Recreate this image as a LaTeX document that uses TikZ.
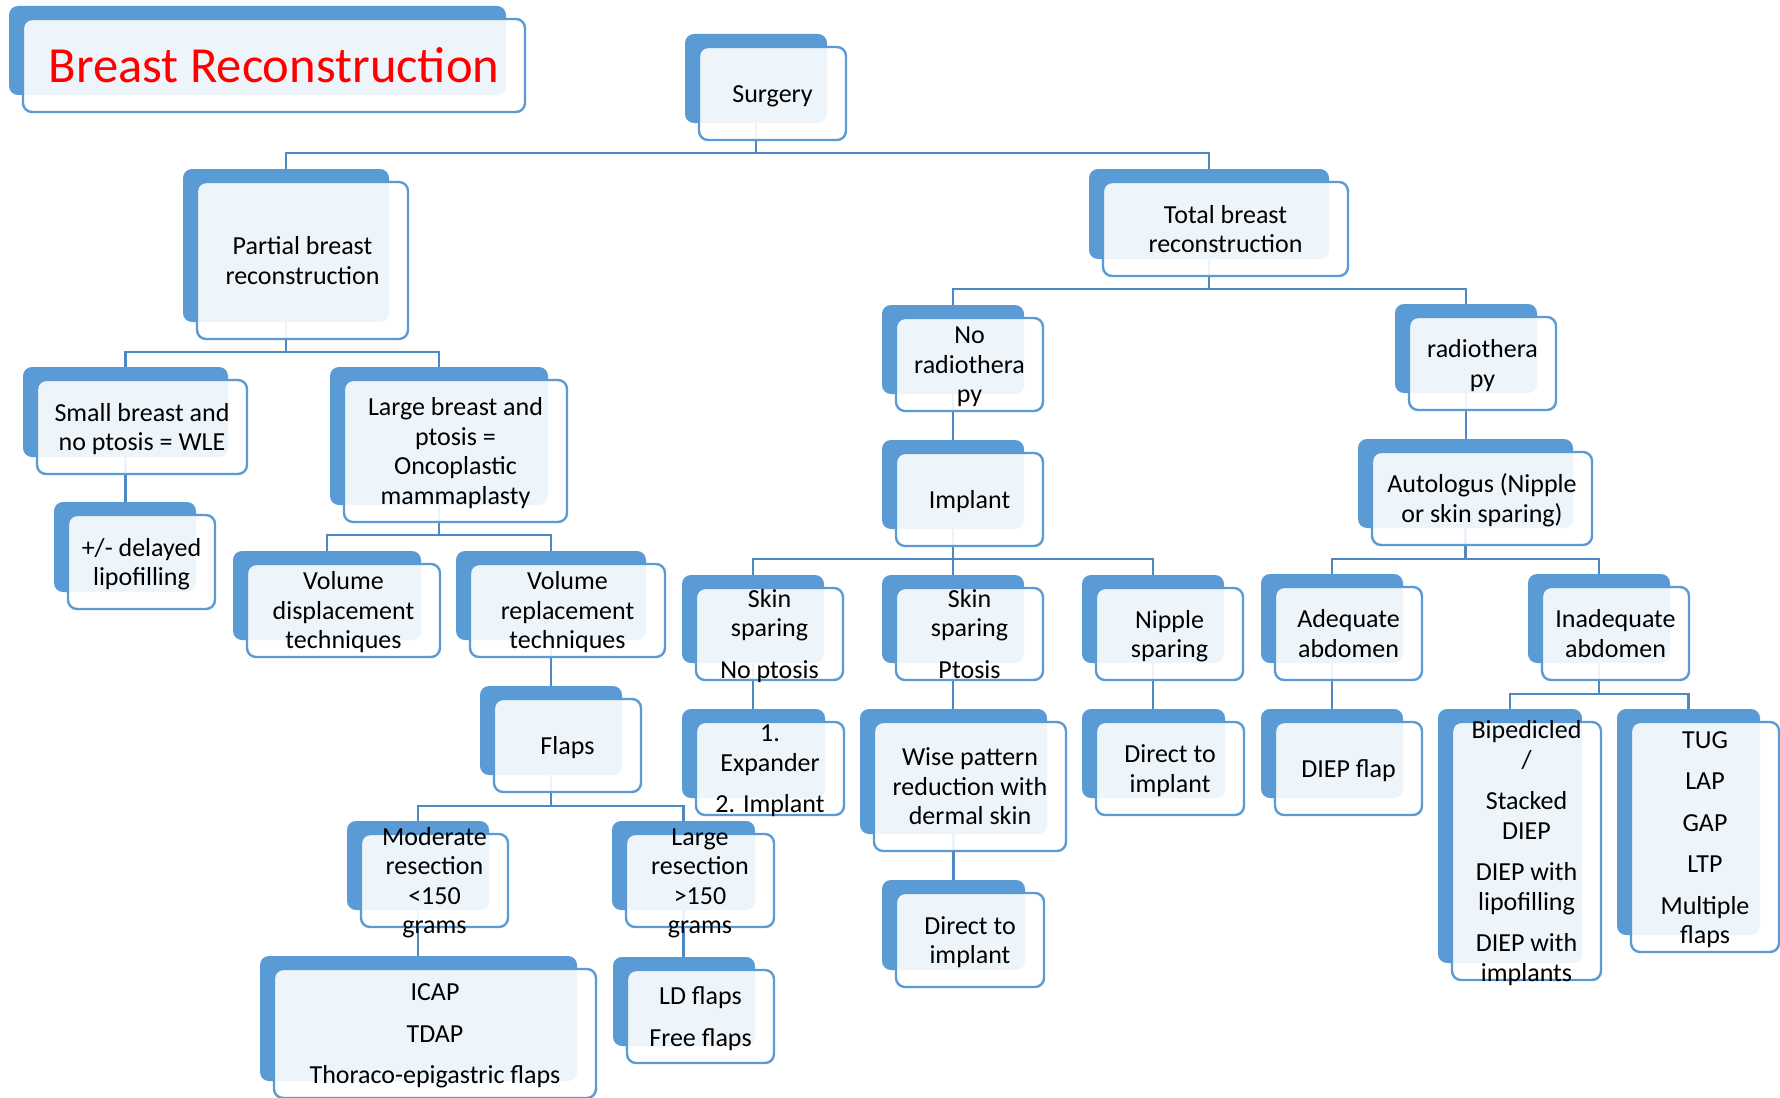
\documentclass[tikz,border=0pt]{standalone}
\usepackage{fontspec}
\setmainfont{Carlito}
\definecolor{accent}{RGB}{91,155,213}
\definecolor{connc}{RGB}{80,136,196}
\pgfdeclarelayer{bg}
\pgfsetlayers{bg,main}
\tikzset{
  backbox/.style={rectangle, rounded corners=4.5pt, fill=accent, draw=none, inner sep=0pt, outer sep=0pt},
  frontbox/.style={rectangle, rounded corners=4.5pt, draw=accent, line width=1.2pt, fill=white, fill opacity=0.9, inner sep=0pt, outer sep=0pt},
  boxtext/.style={align=center, font=\fontsize{13}{14.75}\selectfont, inner sep=0pt, text=black},
  titletext/.style={font=\fontsize{25.3}{29}\selectfont, text=red},
  conn/.style={draw=connc, line width=1.4pt},
}
\newcommand{\topstrut}{\vrule height 0.95em depth 0pt width 0pt}
\newcommand{\botstrut}{\vrule height 0pt depth 0.27em width 0pt}
% #1 text style, #2 name, #3 x1, #4 y1, #5 x2, #6 y2 (back box), #7 text
\newcommand{\smbox}[7][]{%
  \node[backbox, minimum width={(#5-#3)*0.5pt}, minimum height={(#6-#4)*0.5pt}] (#2b) at ({(#3+#5)/2},{(#4+#6)/2}) {};
  \node[frontbox, minimum width={(#5-#3+5)*0.5pt}, minimum height={(#6-#4+4)*0.5pt}] (#2) at ({(#3+#5)/2+16.5},{(#4+#6)/2+15}) {};
  \node[boxtext, #1] (#2t) at (#2.center) {\topstrut#7\botstrut};
}
\begin{document}
\begin{tikzpicture}[x=0.5pt,y=-0.5pt]
\useasboundingbox (0,0) rectangle (1780,1097);

\smbox[titletext]{title}{9}{6}{506}{95}{Breast Reconstruction}
\smbox{surg}{685}{34}{827}{123}{Surgery}
\smbox{part}{183}{169}{389}{322}{Partial breast\\reconstruction}
\smbox{total}{1089}{169}{1329}{259}{Total breast\\reconstruction}
\smbox{small}{23}{367}{228}{457}{Small breast and\\no ptosis = WLE}
\smbox{large}{330}{367}{548}{505}{Large breast and\\ptosis =\\Oncoplastic\\mammaplasty}
\smbox{lipo}{54}{502}{196}{592}{+/- delayed\\lipofilling}
\smbox{vdisp}{233}{551}{421}{640}{Volume\\displacement\\techniques}
\smbox{vrep}{456}{551}{646}{640}{Volume\\replacement\\techniques}
\smbox{flaps}{480}{686}{622}{775}{Flaps}
\smbox{mod}{347}{821}{489}{910}{Moderate\\resection\\<150\\grams}
\smbox{lres}{612}{821}{755}{910}{Large\\resection\\>150\\grams}
\smbox{icap}{260}{956}{577}{1081}{ICAP\\[6pt]TDAP\\[6pt]Thoraco-epigastric flaps}
\smbox{ld}{613}{957}{755}{1046}{LD flaps\\[6pt]Free flaps}
\smbox{norad}{882}{305}{1024}{394}{No\\radiothera\\py}
\smbox{rad}{1395}{304}{1537}{393}{radiothera\\py}
\smbox{implant}{882}{440}{1024}{529}{Implant}
\smbox{auto}{1358}{439}{1573}{528}{Autologus (Nipple\\or skin sparing)}
\smbox{ssnp}{682}{575}{824}{663}{Skin\\sparing\\[6pt]No ptosis}
\smbox{ssp}{882}{575}{1024}{663}{Skin\\sparing\\[6pt]Ptosis}
\smbox{nipple}{1082}{575}{1224}{663}{Nipple\\sparing}
\smbox{adeq}{1261}{574}{1403}{663}{Adequate\\abdomen}
\smbox{inadeq}{1528}{574}{1670}{663}{Inadequate\\abdomen}
\smbox{exp}{682}{709}{825}{798}{1.\\Expander\\[6pt]2. Implant}
\smbox{wise}{860}{709}{1047}{834}{Wise pattern\\reduction with\\dermal skin}
\smbox{dtia}{1082}{709}{1225}{798}{Direct to\\implant}
\smbox{diep}{1261}{709}{1403}{798}{DIEP flap}
\smbox{bip}{1438}{709}{1582}{963}{Bipedicled\\/\\[6pt]Stacked\\DIEP\\[6pt]DIEP with\\lipofilling\\[6pt]DIEP with\\implants}
\smbox{tug}{1617}{709}{1760}{935}{TUG\\[6pt]LAP\\[6pt]GAP\\[6pt]LTP\\[6pt]Multiple\\flaps}
\smbox{dtib}{882}{880}{1025}{970}{Direct to\\implant}

\begin{pgfonlayer}{bg}
\fill[white] (0,0) rectangle (1780,1097);
\draw[conn] (surgb.south) -- (surgb.south |- 0,153) -| (partb.north);
\draw[conn] (surgb.south |- 0,153) -| (totalb.north);
\draw[conn] (partb.south) -- (partb.south |- 0,352) -| (smallb.north);
\draw[conn] (partb.south |- 0,352) -| (largeb.north);
\draw[conn] (smallb.south) -- (smallb.south |- lipob.north);
\draw[conn] (largeb.south) -- (largeb.south |- 0,535) -| (vdispb.north);
\draw[conn] (largeb.south |- 0,535) -| (vrepb.north);
\draw[conn] (vrepb.south) -- (vrepb.south |- flapsb.north);
\draw[conn] (flapsb.south) -- (flapsb.south |- 0,806) -| (modb.north);
\draw[conn] (flapsb.south |- 0,806) -| (lresb.north);
\draw[conn] (modb.south) -- (modb.south |- icapb.north);
\draw[conn] (lresb.south) -- (lresb.south |- ldb.north);
\draw[conn] (totalb.south) -- (totalb.south |- 0,289) -| (noradb.north);
\draw[conn] (totalb.south |- 0,289) -| (radb.north);
\draw[conn] (noradb.south) -- (noradb.south |- implantb.north);
\draw[conn] (implantb.south) -- (implantb.south |- 0,559) -| (ssnpb.north);
\draw[conn] (implantb.south) -- (implantb.south |- 0,559) -| (sspb.north);
\draw[conn] (implantb.south |- 0,559) -| (nippleb.north);
\draw[conn] (ssnpb.south) -- (ssnpb.south |- expb.north);
\draw[conn] (sspb.south) -- (sspb.south |- wiseb.north);
\draw[conn] (nippleb.south) -- (nippleb.south |- dtiab.north);
\draw[conn] (wiseb.south) -- (wiseb.south |- dtibb.north);
\draw[conn] (radb.south) -- (radb.south |- autob.north);
\draw[conn] (autob.south) -- (autob.south |- 0,559) -| (adeqb.north);
\draw[conn] (autob.south |- 0,559) -| (inadeqb.north);
\draw[conn] (adeqb.south) -- (adeqb.south |- diepb.north);
\draw[conn] (inadeqb.south) -- (inadeqb.south |- 0,694) -| (bipb.north);
\draw[conn] (inadeqb.south |- 0,694) -| (tugb.north);
\end{pgfonlayer}
\end{tikzpicture}
\end{document}
